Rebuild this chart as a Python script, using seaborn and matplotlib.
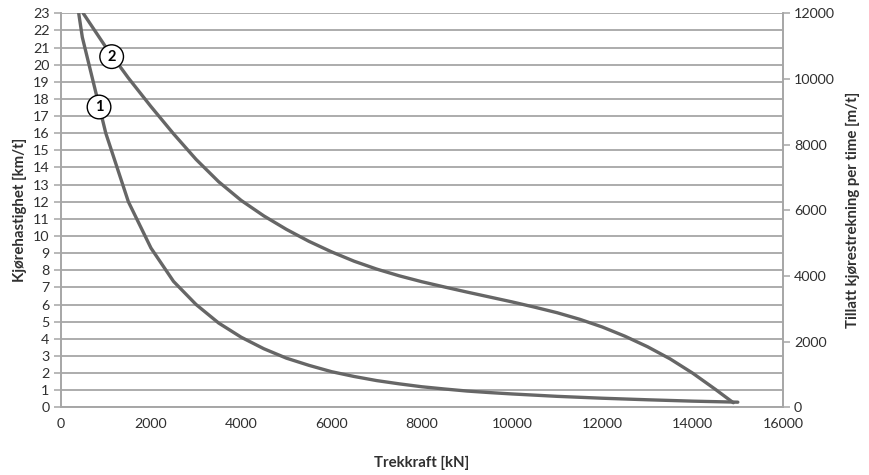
import numpy as np
import matplotlib
matplotlib.use('Agg')
import matplotlib.pyplot as plt
import seaborn as sb

# curve 1: driving speed vs tractive force (left axis)
force_1 = [400, 480, 1000, 1500, 2000, 2500, 3000, 3500, 4000, 4500, 5000, 5500, 6000,
           6500, 7000, 7500, 8000, 8500, 9000, 9500, 10000, 11000, 12000, 13000, 14000, 15000]
speed_1 = [23, 21.6, 16.0, 12.0, 9.3, 7.35, 6.0, 4.92, 4.09, 3.42, 2.87, 2.45, 2.08,
           1.80, 1.56, 1.37, 1.2, 1.07, 0.95, 0.86, 0.78, 0.64, 0.53, 0.44, 0.36, 0.3]

# curve 2: allowed driving distance per hour vs tractive force (right axis)
force_2 = [500, 1000, 1500, 2000, 2500, 3000, 3500, 4000, 4500, 5000, 5500, 6000, 6500,
           7000, 7500, 8000, 8500, 9000, 9500, 10000, 10500, 11000, 11500, 12000, 12500,
           13000, 13500, 14000, 14500, 14900]
rate_2 = [12000, 10970, 10030, 9160, 8330, 7550, 6870, 6300, 5830, 5420, 5055, 4735, 4450,
          4210, 4005, 3825, 3665, 3510, 3360, 3210, 3050, 2880, 2680, 2445, 2165,
          1845, 1475, 1040, 550, 140]

x_ticks = list(range(0, 16001, 2000))
left_ticks = list(range(0, 24))
right_ticks = list(range(0, 12001, 2000))

sb.set_style('white')
plt.rcParams['font.family'] = ['Lato', 'DejaVu Sans']
plt.rcParams['font.size'] = 10.3

line_c = '#666666'
grid_c = '#a6a6a6'
text_c = '#303030'

fig, ax = plt.subplots(figsize=(8.69, 4.75), dpi=100)
fig.subplots_adjust(left=0.0698, right=0.901, bottom=0.1425, top=0.972)

ax.set_axisbelow(True)
ax.yaxis.grid(True, color=grid_c, lw=1.3)
ax.xaxis.grid(False)
sb.lineplot(x=force_1, y=speed_1, ax=ax, color=line_c, lw=2.4)

ax2 = ax.twinx()
sb.lineplot(x=force_2, y=rate_2, ax=ax2, color=line_c, lw=2.4)

ax.set_xlim(0, 16000)
ax.set_ylim(0, 23)
ax2.set_ylim(0, 12000)
ax.set_xticks(x_ticks)
ax.set_yticks(left_ticks)
ax2.set_yticks(right_ticks)

for a in (ax, ax2):
    a.spines['top'].set_visible(False)
    for s in ('left', 'bottom', 'right'):
        a.spines[s].set_color(grid_c)
        a.spines[s].set_linewidth(1.2)
    a.tick_params(direction='out', length=5, width=1.1, color=grid_c,
                  labelcolor=text_c, labelsize=10.3, pad=3)
ax2.grid(False)

ax.set_xlabel('Trekkraft [kN]', fontweight='bold', color=text_c, fontsize=10.8, labelpad=18)
ax.set_ylabel('Kjørehastighet [km/t]', fontweight='bold', color=text_c, fontsize=10.8,
              labelpad=4)
ax2.set_ylabel('Tillatt kjørestrekning per time [m/t]', fontweight='bold',
               color=text_c, fontsize=10.8, labelpad=8)

for lbl, xv, yv in [('1', 850, 17.53), ('2', 1130, 20.47)]:
    ax2.text(xv, yv, lbl, transform=ax.transData, ha='center', va='center',
             fontweight='bold', fontsize=10.5, color='black', zorder=5,
             bbox=dict(boxstyle='circle,pad=0.33', fc='white', ec='black', lw=1))

fig.savefig('out.png', dpi=100)
